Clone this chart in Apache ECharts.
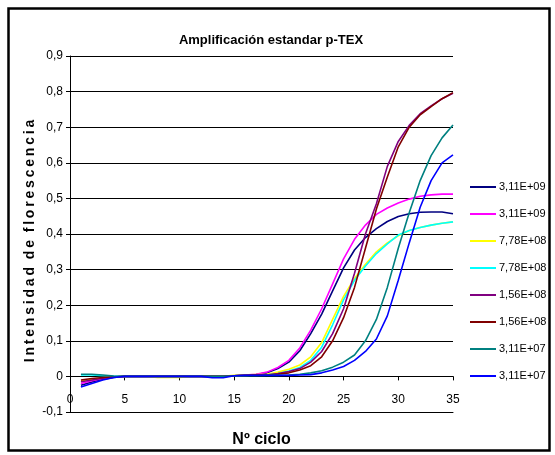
<!DOCTYPE html>
<html>
<head>
<meta charset="utf-8">
<script src="https://cdn.jsdelivr.net/npm/echarts@6/dist/echarts.min.js"></script>
<style>
  html, body { margin: 0; padding: 0; background: #fff; }
  #chart { width: 555px; height: 455px; }
</style>
</head>
<body>
<div id="chart"></div>
<script>
// ciclos 1..35
var cycles = [];
for (var c = 1; c <= 35; c++) cycles.push(c);

var legendNames = ['3,11E+09', '3,11E+09', '7,78E+08', '7,78E+08', '1,56E+08', '1,56E+08', '3,11E+07', '3,11E+07'];
var colors = ['#000080', '#FF00FF', '#FFFF00', '#00FFFF', '#800080', '#800000', '#008080', '#0000FF'];

var s309a = [-0.025,-0.016,-0.008,-0.003,0, 0,0,0,0,0,0,0,0,0,
  0.002,0.004,0.005,0.01,0.022,0.04,0.072,0.12,0.175,0.24,0.305,0.355,0.39,0.415,0.435,0.449,0.457,0.461,0.462,0.462,0.457];
var s309b = [-0.02,-0.012,-0.006,-0.002,0, 0,0,0,0,0,0,0,0,0,
  0.002,0.004,0.006,0.012,0.025,0.045,0.08,0.13,0.19,0.26,0.33,0.385,0.425,0.455,0.473,0.487,0.498,0.506,0.51,0.512,0.512];
var s308a = [-0.012,-0.008,-0.004,-0.002,0, 0,0,-0.003,-0.003,-0.003,0,0,0,0,
  0.003,0.004,0.005,0.006,0.012,0.02,0.032,0.055,0.095,0.16,0.225,0.275,0.315,0.35,0.375,0.395,0.41,0.418,0.425,0.43,0.434];
var s308b = [0.004,0.004,0.002,0,0, 0,0,0,0,0,0,0,0,0,
  0.002,0.003,0.004,0.004,0.008,0.015,0.025,0.045,0.082,0.145,0.215,0.27,0.31,0.345,0.372,0.397,0.41,0.418,0.425,0.43,0.434];
var s156a = [-0.015,-0.01,-0.005,-0.002,0, 0,0,0,0,0,0,0,0,0,
  0.002,0.003,0.004,0.004,0.008,0.014,0.022,0.04,0.07,0.12,0.19,0.29,0.40,0.485,0.59,0.66,0.705,0.738,0.76,0.78,0.795];
var s156b = [-0.01,-0.006,-0.003,-0.001,0, 0,0,0,0,0,0,0,0,0,
  0.002,0.003,0.004,0.004,0.006,0.01,0.018,0.03,0.055,0.1,0.165,0.25,0.36,0.47,0.56,0.645,0.7,0.735,0.758,0.78,0.797];
var s307a = [0.006,0.006,0.004,0.001,0, 0,0,0,0,0,0,0,0,0,
  0.001,0.002,0.002,0.003,0.003,0.004,0.006,0.01,0.016,0.026,0.04,0.06,0.1,0.16,0.25,0.36,0.46,0.55,0.62,0.67,0.706];
var s307b = [-0.03,-0.02,-0.01,-0.003,0, 0,0,0,0,0,0,0,-0.004,-0.004,
  0.002,0.003,0.003,0.003,0.003,0.003,0.004,0.005,0.01,0.018,0.028,0.045,0.07,0.105,0.17,0.27,0.375,0.475,0.55,0.6,0.622];

var allValues = [s309a, s309b, s308a, s308b, s156a, s156b, s307a, s307b];

var chart = echarts.init(document.getElementById('chart'), null, { renderer: 'canvas' });

var series = allValues.map(function (vals, i) {
  return {
    name: legendNames[i] + '#' + i,
    type: 'line',
    xAxisIndex: 0,
    symbol: 'none',
    silent: true,
    animation: false,
    itemStyle: { color: colors[i] },
    lineStyle: { color: colors[i], width: 1.6 },
    data: vals.map(function (v, k) { return [cycles[k], v]; })
  };
});

var font = '"Liberation Sans", Arial, sans-serif';

chart.setOption({
  animation: false,
  backgroundColor: '#fff',
  title: {
    text: 'Amplificación estandar p-TEX',
    left: 266,
    top: 29,
    textAlign: 'center',
    textStyle: { fontFamily: font, fontSize: 13, fontWeight: 'bold', color: '#000' }
  },
  grid: { left: 70, right: 102, top: 56, bottom: 43, containLabel: false },
  legend: {
    orient: 'vertical',
    left: 470,
    top: 180,
    padding: 0,
    itemWidth: 26,
    itemHeight: 2,
    itemGap: 13,
    icon: 'rect',
    selectedMode: false,
    data: series.map(function (s) { return s.name; }),
    formatter: function (name) { return name.split('#')[0]; },
    textStyle: { fontFamily: font, fontSize: 11, color: '#000', lineHeight: 14, padding: [0, 0, 0, -2] }
  },
  xAxis: [
    {
      type: 'value',
      min: 0, max: 35, interval: 5,
      position: 'bottom',
      axisLine: { show: true, onZero: false, lineStyle: { color: '#000', width: 1 } },
      axisTick: { show: false },
      splitLine: { show: false },
      axisLabel: { color: '#000', fontFamily: font, fontSize: 12, margin: -18 },
      name: 'Nº ciclo',
      nameLocation: 'middle',
      nameGap: 20,
      nameTextStyle: { fontFamily: font, fontSize: 16, fontWeight: 'bold', color: '#000' }
    },
    {
      type: 'value',
      min: 0, max: 35, interval: 5,
      position: 'bottom',
      axisLine: { show: true, onZero: true, lineStyle: { color: '#000', width: 1 } },
      axisTick: { show: true, length: 4, lineStyle: { color: '#000' } },
      axisLabel: { show: false },
      splitLine: { show: false }
    }
  ],
  yAxis: {
    type: 'value',
    min: -0.1, max: 0.9, interval: 0.1,
    axisLine: { show: true, lineStyle: { color: '#000', width: 1 } },
    axisTick: { show: true, length: 4, lineStyle: { color: '#000' } },
    axisLabel: {
      color: '#000', fontFamily: font, fontSize: 12, margin: 7,
      formatter: function (v) {
        var r = Math.round(v * 10) / 10;
        return r === 0 ? '0' : r.toFixed(1).replace('.', ',');
      }
    },
    splitLine: { show: true, lineStyle: { color: '#000', width: 1 } }
  },
  graphic: [
    {
      type: 'rect',
      shape: { x: 8.5, y: 8.5, width: 541, height: 442 },
      style: { fill: null, stroke: '#000', lineWidth: 2.5 },
      silent: true, z: 100
    },
    {
      type: 'text',
      x: 30, y: 241,
      rotation: Math.PI / 2,
      style: {
        text: 'I\u2009n\u2009t\u2009e\u2009n\u2009s\u2009i\u2009d\u2009a\u2009d  d\u2009e  f\u2009l\u2009o\u2009r\u2009e\u2009s\u2009c\u2009e\u2009n\u2009c\u2009i\u2009a',
        font: 'bold 14px ' + font,
        fill: '#000',
        textAlign: 'center',
        textVerticalAlign: 'middle'
      },
      silent: true
    }
  ],
  series: series
});
</script>
</body>
</html>
